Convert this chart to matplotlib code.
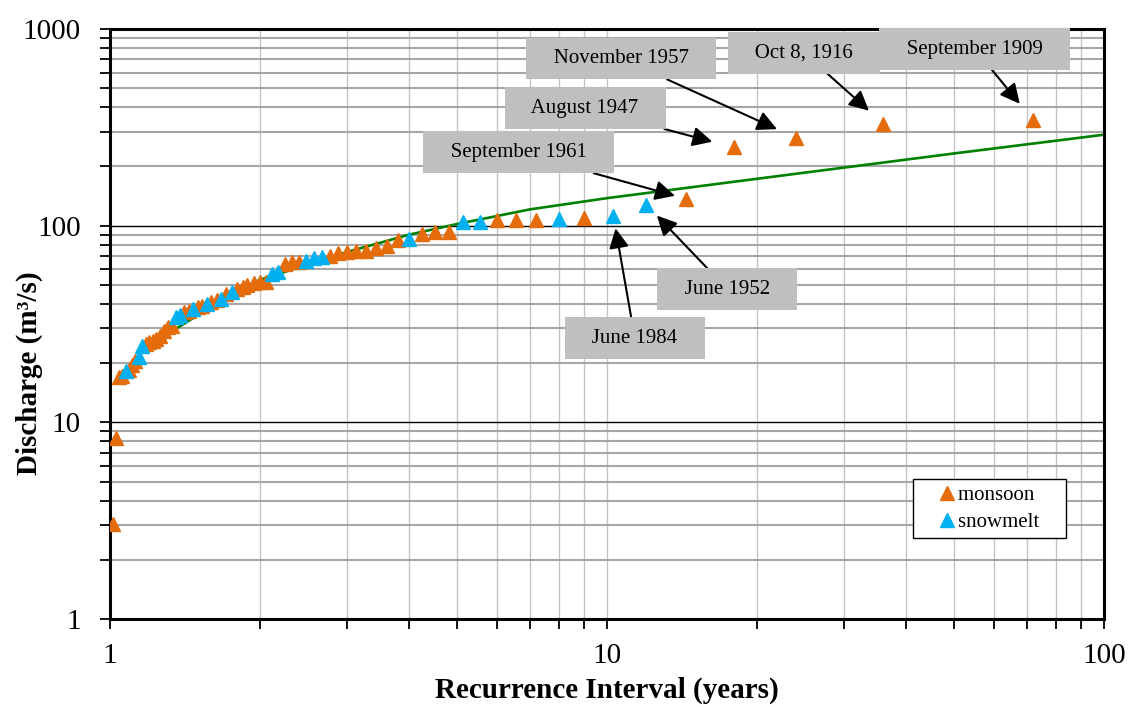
import numpy as np
import matplotlib
matplotlib.use("Agg")
import matplotlib.pyplot as plt
from matplotlib.ticker import FixedLocator, NullFormatter, FixedFormatter

plt.rcParams['font.family'] = ['Liberation Serif', 'DejaVu Serif']

# Annual peaks ranked 1..71: recurrence interval (years), discharge (m3/s), flood type
recurrence = [72.0, 36.0, 24.0, 18.0, 14.4, 12.0, 10.3, 9.0, 8.0, 7.2,
              6.55, 6.0, 5.54, 5.14, 4.8, 4.5, 4.24, 4.0, 3.79, 3.6,
              3.43, 3.27, 3.13, 3.0, 2.88, 2.77, 2.67, 2.57, 2.48, 2.4,
              2.32, 2.25, 2.18, 2.12, 2.06, 2.0, 1.95, 1.89, 1.85, 1.8,
              1.76, 1.71, 1.67, 1.64, 1.6, 1.57, 1.53, 1.5, 1.47, 1.44,
              1.41, 1.385, 1.36, 1.333, 1.31, 1.286, 1.263, 1.24, 1.22, 1.2,
              1.18, 1.16, 1.143, 1.125, 1.108, 1.09, 1.075, 1.059, 1.043, 1.029,
              1.014]
discharge = [345, 330, 280, 250, 137, 128, 112, 109, 108, 107,
             107, 107, 104, 104, 93, 93, 91, 86, 85, 79,
             77, 74.5, 74, 73.5, 73, 70, 69.5, 68.5, 66, 65,
             65, 64, 58, 57, 52, 51.5, 51, 50, 48.5, 47.5,
             46, 45, 42.5, 42, 41, 40, 39, 38.5, 37.5, 37,
             36.5, 35, 34.5, 31, 30.5, 29, 27.5, 26.5, 26, 25.5,
             25, 24.5, 21.5, 20.5, 19.5, 18.5, 18.2, 17.2, 17, 8.3,
             3.05]
flood_type = ['M', 'M', 'M', 'M', 'M', 'S', 'S', 'M', 'S', 'M',
              'M', 'M', 'S', 'S', 'M', 'M', 'M', 'S', 'M', 'M',
              'M', 'M', 'M', 'M', 'M', 'M', 'S', 'S', 'S', 'M',
              'M', 'M', 'S', 'S', 'M', 'M', 'M', 'M', 'M', 'M',
              'S', 'M', 'S', 'M', 'M', 'S', 'M', 'M', 'S', 'M',
              'M', 'S', 'S', 'M', 'M', 'M', 'M', 'M', 'M', 'M',
              'M', 'S', 'S', 'M', 'M', 'M', 'S', 'M', 'M', 'M',
              'M']

# fitted frequency curve
fit_T = [1.25, 1.36, 1.5, 2, 3, 4, 5, 7, 10, 20, 50, 100]
fit_Q = [26, 30, 35, 53, 73.5, 90, 102, 121, 138, 173, 233, 290]

# labelled events: rank index, label, box centre (axes fraction), arrow gap (pt)
events = [0, 1, 2, 3, 4, 5, 6]
event_labels = ['September 1909', 'Oct 8, 1916', 'November 1957', 'August 1947',
                'September 1961', 'June 1952', 'June 1984']
box_pos = [(0.870, 0.966), (0.698, 0.960), (0.514, 0.950), (0.478, 0.866),
           (0.411, 0.791), (0.621, 0.559), (0.528, 0.476)]
gaps = [15, 14, 15, 16, 8, 11, 9]

T = np.array(recurrence)
Q = np.array(discharge)
kind = np.array(flood_type)

fig = plt.figure(figsize=(11.31, 7.07), dpi=100)
ax = fig.add_axes([0.0973, 0.1245, 0.8788, 0.8345])
ax.set_xscale('log')
ax.set_yscale('log')
ax.set_xlim(1, 100)
ax.set_ylim(1, 1000)

# grid
ax.set_axisbelow(True)
ax.yaxis.grid(True, which='major', color='black', lw=1.0)
ax.yaxis.grid(True, which='minor', color='#a6a6a6', lw=1.5)
ax.xaxis.grid(True, which='both', color='#c4c4c4', lw=1.0)

ax.plot(fit_T, fit_Q, color='#008000', lw=1.9, zorder=2)
ax.plot(T[kind == 'M'], Q[kind == 'M'], ls='none', marker='^', ms=9.5,
        color='#E46C0A', mec='#E46C0A', label='monsoon    ', zorder=3)
ax.plot(T[kind == 'S'], Q[kind == 'S'], ls='none', marker='^', ms=9.5,
        color='#00B0F0', mec='#00B0F0', label='snowmelt    ', zorder=4)

for i, lab, pos, g in zip(events, event_labels, box_pos, gaps):
    ax.annotate('   ' + lab + '   ', xy=(T[i], Q[i]), xytext=pos,
                textcoords='axes fraction', ha='center', va='center', fontsize=15,
                bbox=dict(boxstyle='square,pad=0.55', fc='#bfbfbf', ec='none'),
                arrowprops=dict(arrowstyle='-|>', color='black', lw=1.5,
                                mutation_scale=30, shrinkA=0, shrinkB=g),
                zorder=6)

# ticks
ax.xaxis.set_major_locator(FixedLocator([1, 10, 100]))
ax.xaxis.set_major_formatter(FixedFormatter(['1', '10', '100']))
ax.yaxis.set_major_locator(FixedLocator([1, 10, 100, 1000]))
ax.yaxis.set_major_formatter(FixedFormatter(['1', '10', '100', '1000']))
minors = [m * 10.0 ** d for d in range(0, 3) for m in range(2, 10)]
ax.xaxis.set_minor_locator(FixedLocator(minors))
ax.yaxis.set_minor_locator(FixedLocator(minors))
ax.xaxis.set_minor_formatter(NullFormatter())
ax.yaxis.set_minor_formatter(NullFormatter())
ax.tick_params(axis='both', which='both', direction='out', length=7, width=1.3, labelsize=21)
ax.tick_params(axis='x', which='both', pad=10)
ax.tick_params(axis='y', which='both', pad=14)

for s in ax.spines.values():
    s.set_linewidth(2.2)
    s.set_color('black')

ax.set_xlabel('Recurrence Interval (years)', fontsize=21, fontweight='bold', labelpad=6)
ax.set_ylabel('Discharge (m³/s)', fontsize=21, fontweight='bold', va='center')
ax.yaxis.set_label_coords(-0.081, 0.417)

leg = ax.legend(loc='lower right', bbox_to_anchor=(0.962, 0.137), fontsize=15,
                frameon=True, fancybox=False, framealpha=1, edgecolor='black',
                handlelength=2.6, handletextpad=-0.77, borderpad=0.3, labelspacing=0.35,
                borderaxespad=0)
leg.get_frame().set_linewidth(1.0)
leg.set_zorder(7)

fig.savefig('out.png', dpi=100)
